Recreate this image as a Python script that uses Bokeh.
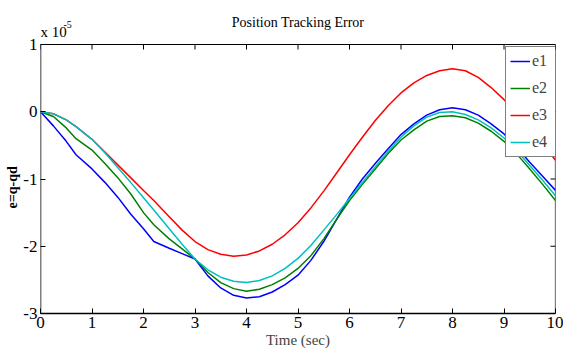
from bokeh.plotting import figure
from bokeh.models import Label, Legend, LegendItem, Range1d, FixedTicker, Title
from bokeh.embed import file_html
from bokeh.resources import INLINE

# Time (sec)
t = [0, 0.25, 0.5, 0.69, 1.0, 1.25, 1.5, 1.75, 2.0, 2.2, 2.5, 2.75, 3.0, 3.25, 3.5, 3.75,
     4.0, 4.25, 4.5, 4.75, 5.0, 5.25, 5.5, 5.75, 6.0, 6.25, 6.5, 6.75, 7.0, 7.25, 7.5,
     7.75, 8.0, 8.25, 8.5, 8.75, 9.0, 9.25, 9.5, 9.75, 10.0]

# errors in units of 1e-5
e1 = [0, -0.21, -0.44, -0.64, -0.85, -1.05, -1.27, -1.52, -1.74, -1.93, -2.03, -2.11, -2.19,
      -2.44, -2.62, -2.73, -2.77, -2.75, -2.68, -2.57, -2.43, -2.21, -1.93, -1.60, -1.27,
      -1.00, -0.77, -0.55, -0.34, -0.18, -0.05, 0.03, 0.06, 0.03, -0.05, -0.18, -0.33,
      -0.53, -0.75, -0.96, -1.17]
e2 = [0, -0.07, -0.24, -0.40, -0.57, -0.77, -0.98, -1.22, -1.50, -1.68, -1.89, -2.04, -2.19,
      -2.39, -2.54, -2.63, -2.67, -2.64, -2.57, -2.47, -2.33, -2.14, -1.89, -1.60, -1.32,
      -1.08, -0.85, -0.62, -0.42, -0.27, -0.14, -0.07, -0.06, -0.09, -0.17, -0.29, -0.44,
      -0.63, -0.85, -1.08, -1.32]
e3 = [0, -0.03, -0.12, -0.22, -0.41, -0.60, -0.79, -0.98, -1.17, -1.32, -1.56, -1.76, -1.93,
      -2.05, -2.12, -2.15, -2.13, -2.07, -1.97, -1.83, -1.65, -1.43, -1.18, -0.91, -0.64,
      -0.38, -0.13, 0.09, 0.28, 0.43, 0.54, 0.61, 0.64, 0.61, 0.51, 0.36, 0.18, -0.02,
      -0.25, -0.48, -0.72]
e4 = [0, -0.03, -0.12, -0.22, -0.41, -0.61, -0.83, -1.05, -1.28, -1.46, -1.74, -1.97, -2.19,
      -2.35, -2.46, -2.52, -2.54, -2.51, -2.44, -2.33, -2.18, -1.99, -1.76, -1.53, -1.29,
      -1.05, -0.82, -0.59, -0.38, -0.21, -0.08, -0.01, 0.00, -0.04, -0.12, -0.24, -0.39,
      -0.58, -0.80, -1.02, -1.25]

series = [("e1", e1, "#0000ff"), ("e2", e2, "#008000"), ("e3", e3, "#ff0000"), ("e4", e4, "#00bfbf")]
x_ticks = [0, 1, 2, 3, 4, 5, 6, 7, 8, 9, 10]
y_ticks = [-3, -2, -1, 0, 1]
y_tick_labels = {-3: "-3", -2: "-2", -1: "-1", 0: "0", 1: "1"}

title_text = "Position Tracking Error"
x_label = "Time (sec)"
y_label = "e=q-qd"
exp_base = "x 10"
exp_power = "-5"

FONT = "Liberation Serif"
W, H = 563, 350
LEFT, RIGHT, BOTTOM = 40, 8, 37
TOP_PX = 44                      # space above the axes box (title, multiplier)
XMIN, XMAX, YMIN, YMAX = 0, 10, -3, 1
px_per_y = (H - BOTTOM - TOP_PX) / (YMAX - YMIN)
px_per_x = (W - LEFT - RIGHT) / (XMAX - XMIN)
y_top = YMAX + TOP_PX / px_per_y  # frame reaches the top of the canvas

p = figure(width=W, height=H, x_range=Range1d(XMIN, XMAX), y_range=Range1d(YMIN, y_top),
           output_backend="svg", toolbar_location=None,
           min_border_left=LEFT, min_border_right=RIGHT, min_border_top=0,
           min_border_bottom=BOTTOM)
p.background_fill_color = "white"
p.border_fill_color = "white"
p.grid.visible = False
p.outline_line_color = None

for ax in (p.xaxis[0], p.yaxis[0]):
    ax.axis_line_color = "black"
    ax.axis_line_width = 1.5
    ax.major_tick_in = 5
    ax.major_tick_out = 0
    ax.major_tick_line_color = "black"
    ax.minor_tick_line_color = None
    ax.major_label_text_font = FONT
    ax.major_label_text_font_size = "17px"
    ax.major_label_text_color = "black"
p.yaxis[0].axis_line_color = None

p.xaxis[0].ticker = FixedTicker(ticks=x_ticks)
p.yaxis[0].ticker = FixedTicker(ticks=y_ticks)
p.yaxis[0].major_label_overrides = y_tick_labels
p.xaxis[0].major_label_standoff = 3
p.yaxis[0].major_label_standoff = 3
p.xaxis[0].axis_label = x_label
p.xaxis[0].axis_label_text_font = FONT
p.xaxis[0].axis_label_text_font_size = "15px"
p.xaxis[0].axis_label_text_font_style = "normal"
p.xaxis[0].axis_label_standoff = 1

# y label as a left title, placed from the bottom of the axes box
ylab = Title(text=y_label, align="left", text_font=FONT, text_font_size="14px",
             text_font_style="bold", text_color="black", standoff=1, offset=105)
p.add_layout(ylab, "left")

# axes box: left, top, right edges (bottom is the x axis)
p.segment(x0=[XMIN, XMIN, XMAX], y0=[YMIN, YMAX, YMIN], x1=[XMIN, XMAX, XMAX], y1=[YMAX, YMAX, YMAX],
          line_color="black", line_width=[1.5, 1.2, 1.2])
# inward box ticks on top and right edges (MATLAB box style)
p.segment(x0=x_ticks, y0=[YMAX] * len(x_ticks), x1=x_ticks,
          y1=[YMAX - 5 / px_per_y] * len(x_ticks), line_color="black", line_width=1)
p.segment(x0=[XMAX] * len(y_ticks), y0=y_ticks, x1=[XMAX - 5 / px_per_x] * len(y_ticks),
          y1=y_ticks, line_color="black", line_width=1)

items = []
for name, ys, col in series:
    r = p.line(t, ys, line_color=col, line_width=1.5)
    items.append(LegendItem(label=name, renderers=[r]))

legend = Legend(items=items, location=(465, 156))
legend.border_line_color = "black"
legend.border_line_width = 1
legend.background_fill_color = "white"
legend.background_fill_alpha = 1
legend.label_text_font = FONT
legend.label_text_font_size = "16px"
legend.glyph_width = 20
legend.glyph_height = 20
legend.label_height = 20
legend.spacing = 7
legend.padding = 4
legend.margin = 0
legend.label_standoff = 2
p.add_layout(legend)

# title and multiplier, in the space above the axes box
p.add_layout(Label(x=(XMIN + XMAX) / 2, y=YMAX, y_offset=TOP_PX - 22, text=title_text,
                   text_align="center", text_baseline="middle", text_font=FONT,
                   text_font_size="14px", text_color="black"))
p.add_layout(Label(x=XMIN, y=YMAX, y_offset=TOP_PX - 31, text=exp_base, text_align="left",
                   text_baseline="middle", text_font=FONT, text_font_size="15px",
                   text_color="black"))
p.add_layout(Label(x=XMIN, y=YMAX, x_offset=23, y_offset=TOP_PX - 24, text=exp_power,
                   text_align="left", text_baseline="middle", text_font=FONT,
                   text_font_size="10px", text_color="black"))

open("out.html", "w").write(file_html(p, INLINE))
